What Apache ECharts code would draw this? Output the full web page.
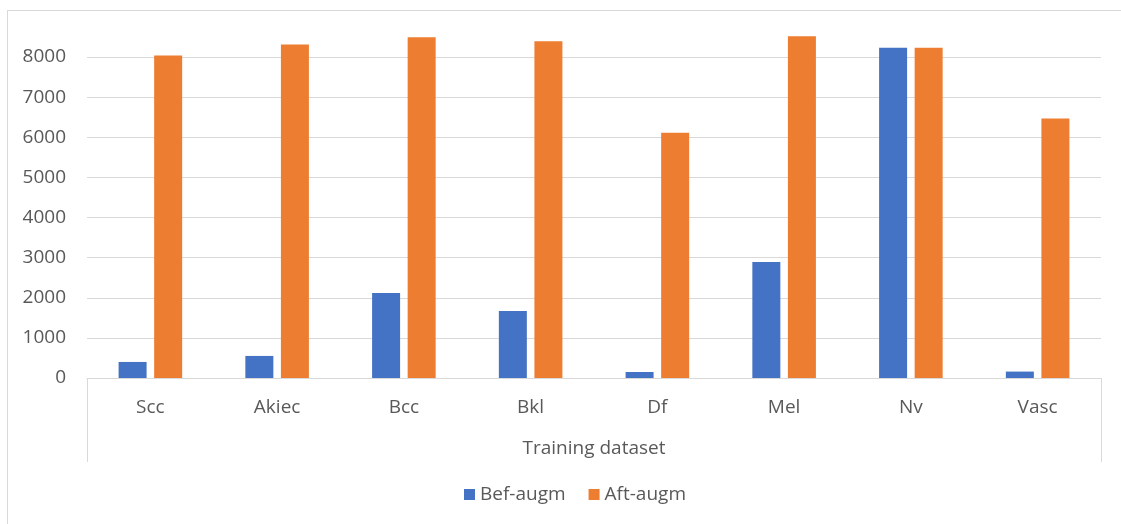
<!DOCTYPE html>
<html>
<head>
<meta charset="utf-8">
<script src="https://cdn.jsdelivr.net/npm/echarts@6/dist/echarts.min.js"></script>
<style>
  html, body { margin: 0; padding: 0; background: #fff; overflow: hidden; }
  #frame { position: absolute; left: 7px; top: 10px; width: 1200px; height: 600px; border: 1px solid #d9d9d9; box-sizing: border-box; }
  #chart { position: absolute; left: 0; top: 0; width: 1121px; height: 524px; }
</style>
</head>
<body>
<div id="frame"></div>
<div id="chart"></div>
<script>
// Training set sizes per lesion class, before and after augmentation
const categories = ['Scc', 'Akiec', 'Bcc', 'Bkl', 'Df', 'Mel', 'Nv', 'Vasc'];
const groupLabel = ['Training dataset'];
const befAugm = [400, 550, 2120, 1670, 150, 2890, 8230, 160];
const aftAugm = [8040, 8310, 8490, 8390, 6110, 8515, 8230, 6470];
const seriesNames = ['Bef-augm', 'Aft-augm'];

const FONT = 'Open Sans';
const TEXT = '#595959';
const GRID = '#d9d9d9';
const FS = 19;

const chart = echarts.init(document.getElementById('chart'), null, { renderer: 'canvas' });
chart.setOption({
  animation: false,
  backgroundColor: 'transparent',
  textStyle: { fontFamily: FONT },
  grid: { left: 87, right: 20, top: 57, bottom: 146, containLabel: false },
  legend: {
    data: seriesNames,
    bottom: 15,
    left: 459,
    itemWidth: 11,
    itemHeight: 11,
    itemGap: 23,
    icon: 'rect',
    textStyle: { color: TEXT, fontSize: FS, fontFamily: FONT }
  },
  xAxis: [
    {
      type: 'category',
      data: categories,
      position: 'bottom',
      axisLine: { show: true, lineStyle: { color: GRID, width: 1 } },
      axisTick: { show: false },
      axisLabel: { color: TEXT, fontSize: FS, margin: 20, fontFamily: FONT }
    },
    {
      type: 'category',
      data: groupLabel,
      position: 'bottom',
      axisLine: { show: false },
      axisTick: { show: true, length: 84, alignWithLabel: false, lineStyle: { color: GRID, width: 1 } },
      axisLabel: { color: TEXT, fontSize: FS, margin: 61, fontFamily: FONT },
      splitLine: { show: false }
    }
  ],
  yAxis: {
    type: 'value',
    min: 0,
    max: 8000,
    interval: 1000,
    axisLine: { show: false },
    axisTick: { show: false },
    axisLabel: { color: TEXT, fontSize: FS, margin: 21, fontFamily: FONT, formatter: v => String(v) },
    splitLine: { lineStyle: { color: GRID, width: 1 } }
  },
  series: [
    {
      name: seriesNames[0],
      type: 'bar',
      xAxisIndex: 0,
      data: befAugm,
      barWidth: 28,
      barGap: '27%',
      clip: false,
      itemStyle: { color: '#4472C4' }
    },
    {
      name: seriesNames[1],
      type: 'bar',
      xAxisIndex: 0,
      data: aftAugm,
      barWidth: 28,
      barGap: '27%',
      clip: false,
      itemStyle: { color: '#ED7D31' }
    }
  ]
});
</script>
</body>
</html>
